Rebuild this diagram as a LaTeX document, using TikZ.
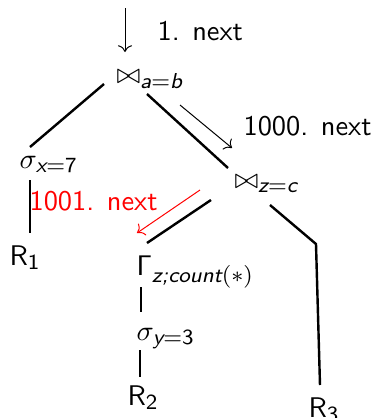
\documentclass[tikz,border=0pt]{standalone}
\usepackage{amsmath, amssymb}
\usepackage{tikz}
\usetikzlibrary{arrows.meta, positioning, calc}
\renewcommand{\familydefault}{\sfdefault}
\DeclareMathSizes{10}{10}{7.6}{5}
\newcommand{\sfit}[1]{\text{\sffamily\itshape #1}}
\newcommand{\sfup}[1]{\text{\sffamily #1}}

\begin{document}
\begin{tikzpicture}[x=0.352pt, y=-0.352pt,
            op/.style={anchor=base west, inner sep=0pt},
            tree/.style={line width=0.85pt},
            call/.style={->, line width=0.35pt},
            redcall/.style={call, red}]

            \useasboundingbox (0,0) rectangle (377,418);

            % operators
            \node[op] (joinab) at (116,83) {$\bowtie_{\sfit{a}=\sfit{b}}$};
            \node[op] (selx) at (19,168) {$\sigma_{\sfit{x}=\sfup{7}}$};
            \node[op] (joinzc) at (234,188) {$\bowtie_{\sfit{z}=\sfit{c}}$};
            \node[op] (grp) at (136,275) {$\mathsf{\Gamma}_{\sfit{z;count}(\ast)}$};
            \node[op] (sely) at (136,340) {$\sigma_{\sfit{y}=\sfup{3}}$};
            \node[op] (rel1) at (9,265) {$\mathsf{R}_{\sfup{1}}$};
            \node[op] (rel2) at (127,405) {$\mathsf{R}_{\sfup{2}}$};
            \node[op] (rel3) at (308,417) {$\mathsf{R}_{\sfup{3}}$};

            % calls
            \node[op] (next1) at (157,40) {1. next};
            \node[op] (next1000) at (243,135) {1000. next};
            \node[op, red] (next1001) at (29,210) {1001. next};
            \coordinate (entry) at (125,8);

            % tree edges
            \draw[tree] ([shift={(-12,1)}]joinab.base west) -- ([shift={(11,-21)}]selx.base west);
            \draw[tree] ([shift={(31,11)}]joinab.base west) -- ([shift={(-6,-20)}]joinzc.base west);
            \draw[tree] ([shift={(11,12)}]selx.base west) -- ([shift={(21,-32)}]rel1.base west);
            \draw[tree] ([shift={(-23,12)}]joinzc.base west) -- ([shift={(11,-32)}]grp.base west);
            \draw[tree] ([shift={(36,17)}]joinzc.base west) -- ([shift={(8,-173)}]rel3.base west)
                -- ([shift={(12,-32)}]rel3.base west);
            \draw[tree] ([shift={(5,12)}]grp.base west) -- ([shift={(5,-28)}]sely.base west);
            \draw[tree] ([shift={(4,10)}]sely.base west) -- ([shift={(13,-28)}]rel2.base west);

            % next calls
            \draw[call] (entry) -- ([shift={(9,-31)}]joinab.base west);
            \draw[call] ([shift={(64,22)}]joinab.base west) -- ([shift={(-2,-40)}]joinzc.base west);
            \draw[redcall] ([shift={(-34,2)}]joinzc.base west) -- ([shift={(1,-42)}]grp.base west);
        \end{tikzpicture}
\end{document}
